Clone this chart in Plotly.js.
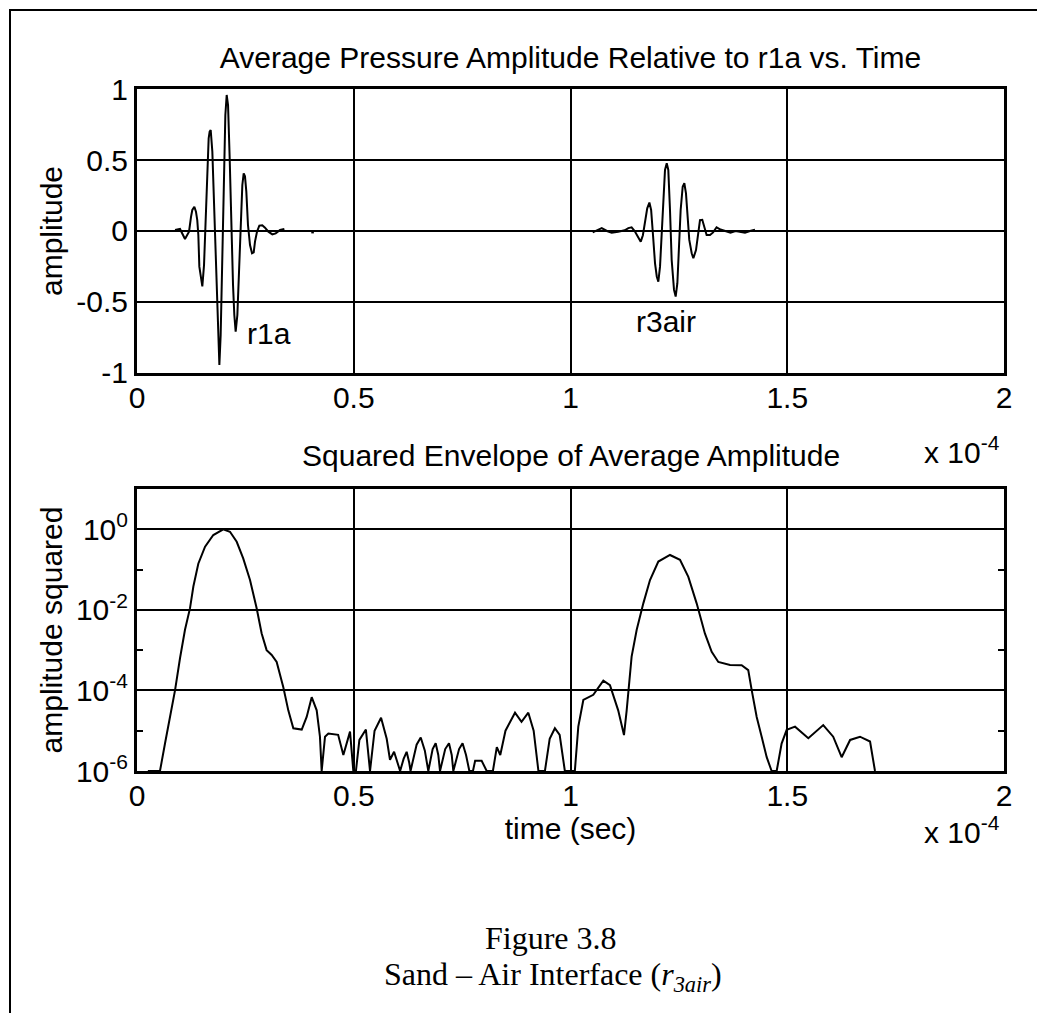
<!DOCTYPE html>
<html>
<head>
<meta charset="utf-8">
<script src="https://cdn.plot.ly/plotly-3.0.1.min.js"></script>
<style>
  html, body { margin: 0; padding: 0; background: #fff; }
  #chart { width: 1037px; height: 1013px; }
  #frame { position: absolute; left: 9px; top: 9px; width: 1100px; height: 1100px;
           border-left: 2px solid #000; border-top: 2px solid #000; pointer-events: none; }
</style>
</head>
<body>
<div id="chart"></div>
<div id="frame"></div>
<script>
// ---------- data (time in units of 1e-4 s) ----------
// r1a pulse, then a lone sample near 0.4
const r1aTime = [0.0877,0.0992,0.1107,0.1200,0.1246,0.1276,0.1323,0.1360,0.1390,0.1415,0.1438,0.1476,0.1507,0.1546,0.1584,0.1622,0.1653,0.1676,0.1700,0.1738,0.1776,0.1815,0.1853,0.1876,0.1900,0.1930,0.1969,0.2007,0.2038,0.2069,0.2100,0.2138,0.2176,0.2215,0.2245,0.2276,0.2315,0.2353,0.2392,0.2430,0.2461,0.2491,0.2522,0.2560,0.2607,0.2653,0.2692,0.2722,0.2768,0.2822,0.2890,0.2953,0.3030,0.3122,0.3200,0.3300,0.3399,null,0.4020,0.4080];
const r1aAmp  = [0.007,0.014,-0.056,-0.005,0.100,0.148,0.171,0.136,0.077,-0.028,-0.251,-0.320,-0.390,-0.240,0.089,0.394,0.653,0.700,0.711,0.559,0.207,-0.192,-0.615,-0.850,-0.944,-0.732,-0.192,0.371,0.817,0.958,0.887,0.512,0.042,-0.380,-0.592,-0.709,-0.592,-0.263,0.136,0.324,0.406,0.385,0.277,0.042,-0.099,-0.157,-0.150,-0.075,-0.005,0.038,0.040,0.023,-0.005,-0.024,-0.017,0.007,0.014,null,-0.010,-0.010];

// r3air pulse
const r3airTime = [1.0512,1.0600,1.0720,1.0840,1.0950,1.1100,1.1250,1.1334,1.1410,1.1480,1.1560,1.1620,1.1670,1.1720,1.1770,1.1820,1.1860,1.1900,1.1950,1.1990,1.2026,1.2065,1.2103,1.2140,1.2180,1.2220,1.2256,1.2295,1.2334,1.2388,1.2426,1.2465,1.2503,1.2541,1.2588,1.2626,1.2664,1.2703,1.2740,1.2796,1.2834,1.2895,1.2950,1.2987,1.3040,1.3087,1.3140,1.3218,1.3290,1.3370,1.3460,1.3570,1.3691,1.3806,1.3920,1.4025,1.4141,1.4256];
const r3airAmp  = [-0.010,0.005,0.020,0.000,-0.012,-0.005,0.005,0.020,0.026,0.000,-0.044,-0.075,-0.030,0.066,0.160,0.200,0.148,-0.016,-0.228,-0.320,-0.357,-0.251,0.000,0.265,0.430,0.477,0.430,0.148,-0.204,-0.415,-0.462,-0.368,-0.134,0.148,0.312,0.336,0.265,0.100,-0.063,-0.157,-0.192,-0.134,0.000,0.077,0.079,0.030,-0.028,-0.028,-0.010,0.026,0.010,0.000,-0.012,0.000,-0.005,-0.012,0.000,0.009];

// squared envelope
const envTime = [0.025,0.053,0.0646,0.076,0.0877,0.0992,0.1107,0.1223,0.130,0.1414,0.157,0.176,0.199,0.2145,0.230,0.245,0.2607,0.276,0.2876,0.299,0.3107,0.3222,0.3375,0.349,0.3606,0.380,0.3914,0.403,0.4145,0.422,0.426,0.4337,0.4414,0.464,0.476,0.4914,0.499,0.505,0.513,0.528,0.5375,0.548,0.563,0.576,0.5836,0.593,0.600,0.607,0.615,0.622,0.628,0.631,0.645,0.6545,0.664,0.672,0.682,0.689,0.695,0.699,0.711,0.7197,0.726,0.7297,0.743,0.751,0.759,0.7667,0.775,0.780,0.795,0.8067,0.821,0.830,0.838,0.850,0.872,0.887,0.9027,0.915,0.926,0.941,0.952,0.964,0.975,0.987,1.010,1.018,1.0296,1.0526,1.0757,1.091,1.110,1.1234,1.1296,1.141,1.1527,1.168,1.1834,1.2026,1.2295,1.2526,1.2718,1.291,1.310,1.3257,1.341,1.368,1.3948,1.410,1.418,1.4295,1.441,1.4526,1.464,1.4756,1.487,1.4987,1.518,1.5486,1.583,1.606,1.6255,1.645,1.6678,1.691,1.7024];
const envSq   = [1e-6,1e-6,4.8e-6,2.0e-5,1.0e-4,6.3e-4,3.2e-3,1.1e-2,3.8e-2,0.14,0.37,0.72,1.0,0.87,0.49,0.19,0.055,0.011,2.6e-3,1.0e-3,7.6e-4,5.1e-4,1.2e-4,3.2e-5,1.15e-5,1.07e-5,2.2e-5,6.8e-5,3.2e-5,7.1e-6,1e-6,7.1e-6,8.5e-6,7.9e-6,2.5e-6,9.5e-6,1e-6,1e-6,5.9e-6,1.07e-5,1e-6,1.0e-5,2.1e-5,6.3e-6,1.9e-6,3.0e-6,1.6e-6,1e-6,2.0e-6,3.0e-6,1.6e-6,1e-6,4.5e-6,6.8e-6,3.2e-6,1e-6,3.5e-6,4.9e-6,2.5e-6,1e-6,3.5e-6,4.9e-6,2.5e-6,1e-6,3.5e-6,4.9e-6,2.5e-6,1e-6,1e-6,1.8e-6,1.8e-6,1e-6,1e-6,3.9e-6,2.5e-6,1.0e-5,2.8e-5,1.66e-5,2.8e-5,1.0e-5,1e-6,1e-6,6.3e-6,1.15e-5,7.9e-6,1e-6,1e-6,1.26e-5,5.8e-5,7.8e-5,1.74e-4,1.35e-4,3.2e-5,7.8e-6,3.2e-5,6.9e-4,3.2e-3,1.45e-2,0.055,0.158,0.23,0.174,0.066,1.45e-2,2.6e-3,9.1e-4,5.1e-4,4.3e-4,4.2e-4,3.2e-4,1.02e-4,2.2e-5,7.1e-6,2.2e-6,1e-6,1e-6,4.8e-6,1.05e-5,1.26e-5,6.5e-6,1.38e-5,7.1e-6,2.2e-6,5.9e-6,7.1e-6,5.4e-6,1e-6];

// tick labels
const xTickVals = [0, 0.5, 1, 1.5, 2];
const xTickText = ['0', '0.5', '1', '1.5', '2'];
const yTopVals = [-1, -0.5, 0, 0.5, 1];
const yTopText = ['-1', '-0.5', '0', '0.5', '1'];
const yLogVals = [1e-6, 1e-4, 1e-2, 1];
const yLogText = ['10<sup>-6</sup>', '10<sup>-4</sup>', '10<sup>-2</sup>', '10<sup>0</sup>'];
const yLogMinor = [1e-5, 1e-3, 1e-1];

// ---------- figure ----------
const FONT = 'Liberation Sans, Arial, Helvetica, sans-serif';
const SERIF = 'Liberation Serif, Times New Roman, serif';
const lineStyle = {color: '#000', width: 2};

const traces = [
  {x: r1aTime, y: r1aAmp, type: 'scatter', mode: 'lines', line: lineStyle, xaxis: 'x', yaxis: 'y', connectgaps: false, name: 'r1a'},
  {x: r3airTime, y: r3airAmp, type: 'scatter', mode: 'lines', line: lineStyle, xaxis: 'x', yaxis: 'y', name: 'r3air'},
  {x: envTime, y: envSq, type: 'scatter', mode: 'lines', line: lineStyle, xaxis: 'x2', yaxis: 'y2', name: 'envelope'}
];

const axBase = {
  showline: true, mirror: 'ticks', linecolor: '#000', linewidth: 3,
  showgrid: true, gridcolor: '#000', gridwidth: 2,
  zeroline: false, ticks: 'inside', ticklen: 6, tickcolor: '#000', tickwidth: 2,
  tickfont: {family: FONT, size: 30, color: '#000'}
};

const layout = {
  width: 1037, height: 1013,
  margin: {l: 137, r: 33, t: 89, b: 242},
  paper_bgcolor: '#fff', plot_bgcolor: '#fff',
  showlegend: false,
  font: {family: FONT, color: '#000', size: 30},
  title: {text: 'Average Pressure Amplitude Relative to r1a vs. Time',
          font: {family: FONT, size: 30, color: '#000'},
          x: 0.5, xref: 'paper', y: 1 - 57/1013, yref: 'container', yanchor: 'middle'},
  xaxis: Object.assign({}, axBase, {anchor: 'y', range: [0, 2], tickmode: 'array', tickvals: xTickVals, ticktext: xTickText,
          ticklabelstandoff: -4}),
  yaxis: Object.assign({}, axBase, {domain: [0.5836, 1], range: [-1, 1], tickmode: 'array', tickvals: yTopVals, ticktext: yTopText,
          title: {text: 'amplitude', font: {family: FONT, size: 30, color: '#000'}, standoff: 5}}),
  xaxis2: Object.assign({}, axBase, {anchor: 'y2', range: [0, 2], tickmode: 'array', tickvals: xTickVals, ticktext: xTickText,
          ticklabelstandoff: -4,
          title: {text: 'time (sec)', font: {family: FONT, size: 30, color: '#000'}, standoff: 0}}),
  yaxis2: Object.assign({}, axBase, {domain: [0, 0.4135], type: 'log', range: [-6, 1], tickmode: 'array', tickvals: yLogVals, ticktext: yLogText,
          minor: {tickmode: 'array', tickvals: yLogMinor, ticks: 'inside', ticklen: 6, tickcolor: '#000', tickwidth: 2, showgrid: false},
          title: {text: 'amplitude squared', font: {family: FONT, size: 30, color: '#000'}, standoff: 5}}),
  annotations: [
    {text: 'r1a', x: 0.249, y: -0.72, xref: 'x', yref: 'y', xanchor: 'left', yanchor: 'middle', showarrow: false,
     font: {family: FONT, size: 30, color: '#000'}},
    {text: 'r3air', x: 1.1465, y: -0.64, xref: 'x', yref: 'y', xanchor: 'left', yanchor: 'middle', showarrow: false,
     font: {family: FONT, size: 30, color: '#000'}},
    {text: 'Squared Envelope of Average Amplitude', x: 0.5, y: 0.4633, xref: 'paper', yref: 'paper', xanchor: 'center', yanchor: 'middle',
     showarrow: false, font: {family: FONT, size: 30, color: '#000'}},
    {text: 'x 10<sup>-4</sup>', x: 0.9977, y: 0.4707, xref: 'paper', yref: 'paper', xanchor: 'right', yanchor: 'middle',
     showarrow: false, font: {family: FONT, size: 30, color: '#000'}},
    {text: 'x 10<sup>-4</sup>', x: 0.9977, y: -0.0865, xref: 'paper', yref: 'paper', xanchor: 'right', yanchor: 'middle',
     showarrow: false, font: {family: FONT, size: 30, color: '#000'}},
    {text: 'Figure 3.8', x: (551 - 137) / 867, y: (771 - 938) / 682, xref: 'paper', yref: 'paper', xanchor: 'center', yanchor: 'middle',
     showarrow: false, font: {family: SERIF, size: 32, color: '#000'}},
    {text: 'Sand \u2013 Air Interface (<i>r</i><sub><i>3air</i></sub>)', x: (553 - 137) / 867, y: (771 - 976) / 682, xref: 'paper', yref: 'paper',
     xanchor: 'center', yanchor: 'middle', showarrow: false, font: {family: SERIF, size: 32, color: '#000'}}
  ]
};

Plotly.newPlot('chart', traces, layout, {staticPlot: true, displayModeBar: false});
</script>
</body>
</html>
